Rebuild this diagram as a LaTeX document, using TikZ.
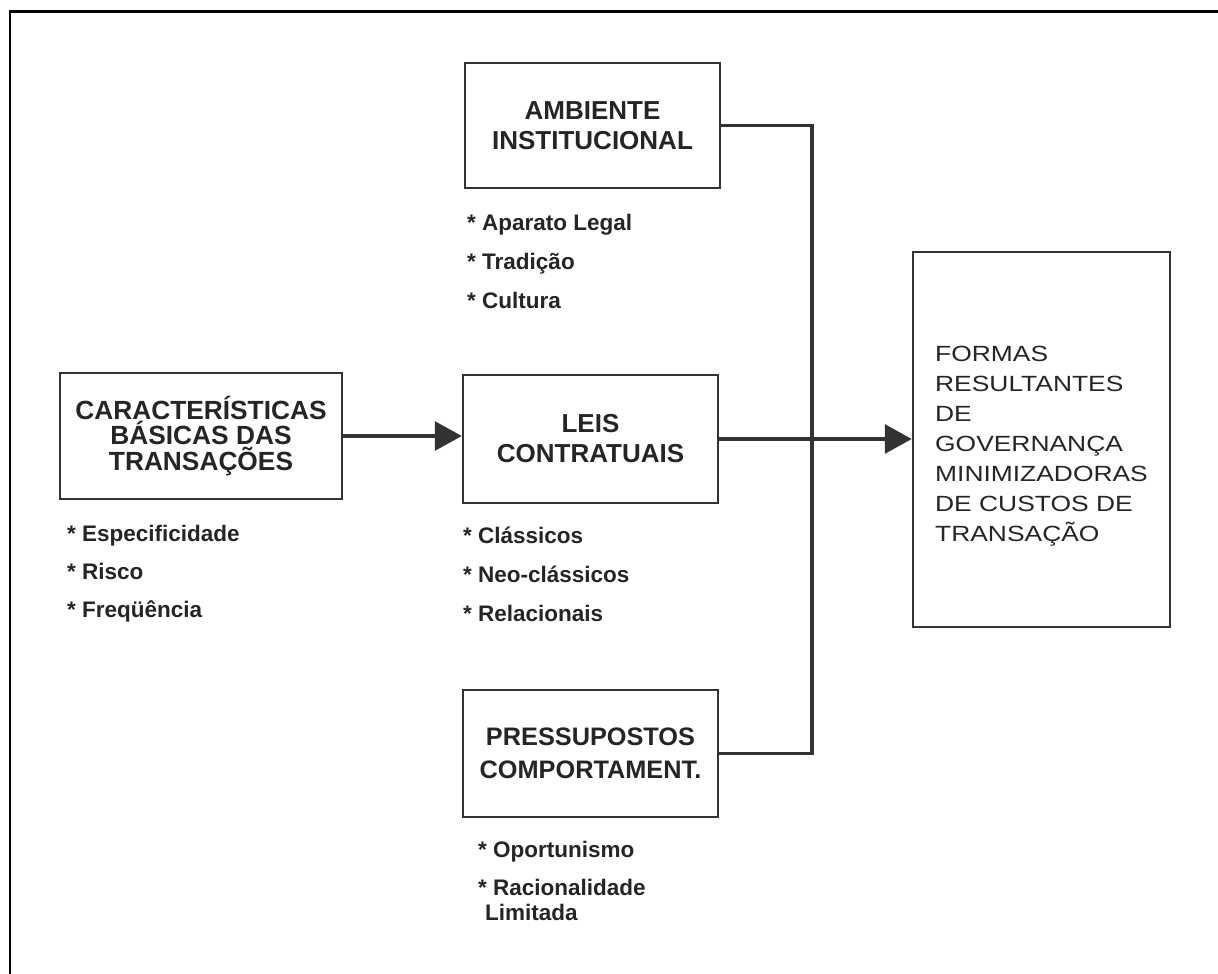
\documentclass[tikz,border=0pt]{standalone}
\usepackage{fontspec}
\setmainfont{Liberation Sans}
\newfontfamily\formasfont[FakeStretch=1.2]{Liberation Sans}
\usetikzlibrary{arrows.meta}
\definecolor{ink}{HTML}{252525}
\definecolor{lin}{HTML}{333333}
\tikzset{
  box/.style={draw=lin,line width=2.5pt,inner sep=0pt,align=center,text=ink,
    font=\bfseries\fontsize{26}{30}\selectfont},
  item/.style={anchor=base west,inner sep=0pt,text=ink,
    font=\bfseries\fontsize{22.5}{25}\selectfont},
  conn/.style={draw=lin,line width=3.3pt,line join=miter},
  arr/.style={conn,-{Triangle[length=27pt,width=29pt]}},
}
\begin{document}
\begin{tikzpicture}[x=1pt,y=-1pt]
\useasboundingbox (0,0) rectangle (1218,974);
\draw[black,line width=2.3pt,line join=miter] (10,974) -- (10,11.5) -- (1218,11.5);

\node[box,minimum width=282pt,minimum height=126pt,font=\bfseries\fontsize{26.3}{25.5}\selectfont] (car) at (201,436) {CARACTERÍSTICAS\\BÁSICAS DAS\\TRANSAÇÕES};
\node[box,minimum width=255pt,minimum height=125pt] (amb) at (592.5,125.5) {AMBIENTE\\INSTITUCIONAL};
\node[box,minimum width=255pt,minimum height=128pt] (leis) at (590.5,439) {LEIS\\CONTRATUAIS};
\node[box,minimum width=255pt,minimum height=127pt,font=\bfseries\fontsize{25.3}{33}\selectfont] (press) at (590.5,753.5) {PRESSUPOSTOS\\COMPORTAMENT.};
\node[box,minimum width=257pt,minimum height=375pt] (formas) at (1041.5,439.5) {};
\node[inner sep=0pt,align=left,text=ink,font=\formasfont\fontsize{22}{30}\selectfont] (formastxt) at ([yshift=-7pt]formas.center) {FORMAS\\RESULTANTES\\DE\\GOVERNANÇA\\MINIMIZADORAS\\DE CUSTOS DE\\TRANSAÇÃO};

\coordinate (jx) at (812,0);
\draw[conn] (amb.east) -- (amb.east -| jx) -- (press.east -| jx) -- (press.east);
\draw[arr] (leis.east) -- (formas.west |- leis.east);
\draw[arr] (car.east) -- (car.east -| leis.west);

\node[item] (c1) at (67,541) {* Especificidade};
\node[item] (c2) at (67,579) {* Risco};
\node[item] (c3) at (67,617) {* Freqüência};
\node[item] (a1) at (467,230) {* Aparato Legal};
\node[item] (a2) at (467,269) {* Tradição};
\node[item] (a3) at (467,308) {* Cultura};
\node[item] (l1) at (463,543) {* Clássicos};
\node[item] (l2) at (463,582) {* Neo-clássicos};
\node[item] (l3) at (463,621) {* Relacionais};
\node[item] (p1) at (478,857) {* Oportunismo};
\node[item] (p2) at (478,895) {* Racionalidade};
\node[item] (p3) at (485,920) {Limitada};
\end{tikzpicture}
\end{document}
